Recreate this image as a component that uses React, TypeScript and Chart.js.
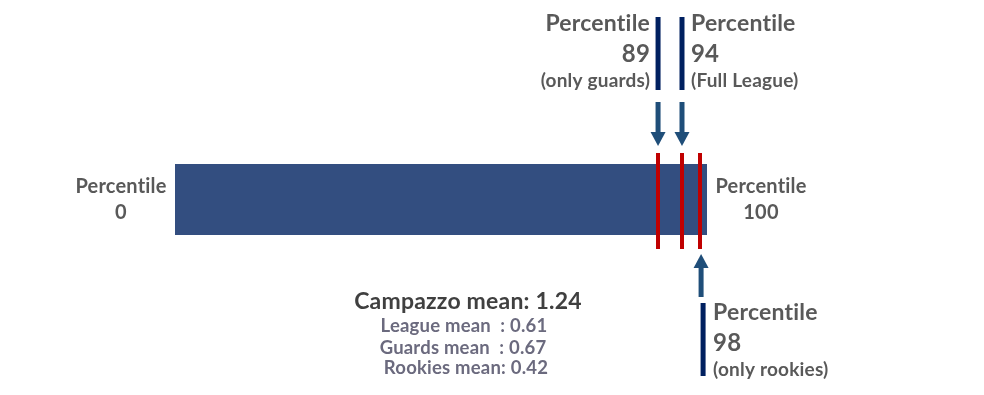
import React, { useEffect, useRef } from "react";
import { Chart, registerables } from "chart.js";

Chart.register(...registerables);

const categories = ["Campazzo"];
const barRange: [number, number] = [0, 100];
const percentileValues = [89, 94, 98];
const markerPositions = [90.8, 95.3, 98.7];
const markerGroups = ["(only guards)", "(Full League)", "(only rookies)"];
const endLabels = ["Percentile\n0", "Percentile\n100"];
const meanTitle = "Campazzo mean: 1.24";
const meanLines = ["League mean  : 0.61", "Guards mean  : 0.67", "Rookies mean: 0.42"];

const FONT = "Lato, 'Open Sans', sans-serif";

const annotate = {
  id: "annotate",
  afterDraw(chart: any) {
    const ctx = chart.ctx as any;
    const xs = chart.scales.x;
    const bar = chart.getDatasetMeta(0).data[0] as any;
    const top = bar.y - bar.height / 2;
    const bottom = bar.y + bar.height / 2;
    const px = markerPositions.map((v) => xs.getPixelForValue(v));

    ctx.save();
    // red marker lines
    ctx.fillStyle = "#C00000";
    px.forEach((x: number) => ctx.fillRect(Math.round(x) - 2, top - 11, 4, bottom - top + 25));

    // arrows
    const arrowColor = "#1F4E79";
    const drawArrow = (x: number, tailY: number, tipY: number) => {
      const dir = tipY > tailY ? 1 : -1;
      const headLen = 14;
      const baseY = tipY - dir * headLen;
      ctx.fillStyle = arrowColor;
      ctx.fillRect(x - 2.5, Math.min(tailY, baseY), 5, Math.abs(baseY - tailY));
      ctx.beginPath();
      ctx.moveTo(x - 7.5, baseY);
      ctx.lineTo(x + 7.5, baseY);
      ctx.lineTo(x, tipY);
      ctx.closePath();
      ctx.fill();
    };
    drawArrow(px[0], top - 62, top - 18);
    drawArrow(px[1], top - 62, top - 18);
    drawArrow(px[2] + 1, bottom + 62, bottom + 19);

    // navy label bars
    ctx.fillStyle = "#002060";
    ctx.fillRect(px[0] - 2.5, 17, 5, 73);
    ctx.fillRect(px[1] - 2.5, 17, 5, 73);
    ctx.fillRect(px[2] + 0.5, bottom + 68, 5, 73);

    ctx.textBaseline = "middle";
    if ("letterSpacing" in ctx) ctx.letterSpacing = "0.2px";
    const gray = "#595959";
    const big = `bold 23px ${FONT}`;
    const mid = `bold 24px ${FONT}`;
    const small = `bold 19px ${FONT}`;

    // top-left label (89)
    ctx.fillStyle = gray;
    ctx.textAlign = "right";
    let tx = px[0] - 8;
    ctx.font = big;
    ctx.fillText("Percentile", tx, 24);
    ctx.font = mid;
    ctx.fillText(String(percentileValues[0]), tx, 54);
    ctx.font = small;
    ctx.fillText(markerGroups[0], tx, 81);

    // top-right label (94)
    ctx.textAlign = "left";
    tx = px[1] + 9;
    ctx.font = big;
    ctx.fillText("Percentile", tx, 24);
    ctx.font = mid;
    ctx.fillText(String(percentileValues[1]), tx, 54);
    ctx.font = small;
    ctx.fillText(markerGroups[1], tx, 81);

    // bottom label (98)
    tx = px[2] + 13;
    ctx.font = big;
    ctx.fillText("Percentile", tx, bottom + 78);
    ctx.font = mid;
    ctx.fillText(String(percentileValues[2]), tx, bottom + 108);
    ctx.font = small;
    ctx.fillText(markerGroups[2], tx, bottom + 135);

    // end labels
    ctx.textAlign = "center";
    ctx.font = `bold 20px ${FONT}`;
    const drawEnd = (label: string, cx: number) => {
      const [a, b] = label.split("\n");
      ctx.fillText(a, cx, bar.y - 13);
      ctx.fillText(b, cx, bar.y + 13);
    };
    drawEnd(endLabels[0], xs.getPixelForValue(barRange[0]) - 54);
    drawEnd(endLabels[1], xs.getPixelForValue(barRange[1]) + 54);

    // means
    ctx.fillStyle = "#404040";
    ctx.font = `bold 23px ${FONT}`;
    ctx.fillText(meanTitle, 468, 302);
    ctx.fillStyle = "#6B6A7E";
    ctx.font = `bold 18.5px ${FONT}`;
    ctx.fillText(meanLines[0], 464, 326);
    ctx.fillText(meanLines[1], 463, 348);
    ctx.fillText(meanLines[2], 466, 368);

    ctx.restore();
  },
};

export default function App() {
  const ref = useRef<HTMLCanvasElement>(null);
  useEffect(() => {
    document.body.style.margin = "0";
    const chart = new Chart(ref.current!, {
      type: "bar",
      data: {
        labels: categories,
        datasets: [
          {
            data: [barRange] as any,
            backgroundColor: "#334E80",
            borderWidth: 0,
            barPercentage: 1,
            categoryPercentage: 1,
          },
        ],
      },
      options: {
        indexAxis: "y",
        responsive: false,
        animation: false,
        layout: { padding: { left: 175, right: 277, top: 164, bottom: 160 } },
        scales: {
          x: { display: false, min: 0, max: 100 },
          y: { display: false },
        },
        plugins: { legend: { display: false }, tooltip: { enabled: false } },
      },
      plugins: [annotate],
    });
    return () => chart.destroy();
  }, []);
  return (
    <div style={{ width: 984, height: 395 }}>
      <canvas ref={ref} width={984} height={395} />
    </div>
  );
}
